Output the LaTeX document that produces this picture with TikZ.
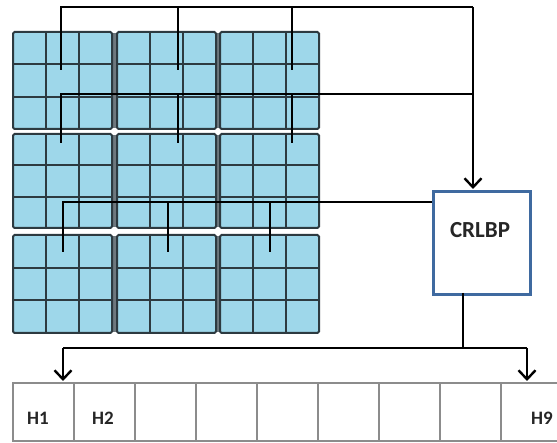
\documentclass[tikz,border=0pt]{standalone}
\usepackage{fontspec}
\setmainfont{Carlito}
\usetikzlibrary{arrows.meta}
\definecolor{cellblue}{RGB}{158,215,234}
\definecolor{griddark}{RGB}{45,58,64}
\definecolor{gapgray}{RGB}{110,120,126}
\definecolor{boxblue}{RGB}{63,106,160}
\definecolor{arrgray}{RGB}{140,140,140}
\tikzset{
  gridline/.style={draw=griddark, line width=2pt},
  bus/.style={draw=black, line width=2.6pt},
  busarrow/.style={bus, -{Straight Barb[length=9pt,width=17pt,line width=2.4pt]}},
  cellbox/.style={draw=arrgray, line width=1.6pt},
  lbl/.style={font=\fontsize{19}{21}\selectfont\bfseries, text=black!85, inner sep=0pt}
}
\begin{document}
\begin{tikzpicture}[x=1pt,y=-1pt]
\useasboundingbox (0,0) rectangle (557,443);
% ---- 3x3 blocks of 3x3 cells ----
\foreach \by/\bh in {32/97,134/94,235/98}{
  \fill[gapgray] (112,\by+1) rectangle (118,\by+\bh-1);
  \fill[gapgray] (215,\by+1) rectangle (221,\by+\bh-1);
}
\foreach \bx in {13,117,220}{
  \foreach \by/\bh in {32/97,134/94,235/98}{
    \fill[cellblue] (\bx,\by) rectangle ++(99,\bh);
    \draw[gridline] (\bx+33,\by) -- ++(0,\bh);
    \draw[gridline] (\bx+66,\by) -- ++(0,\bh);
    \draw[gridline] (\bx,\by+\bh/3) -- ++(99,0);
    \draw[gridline] (\bx,\by+2*\bh/3) -- ++(99,0);
    \draw[gridline, rounded corners=1.5pt] (\bx,\by) rectangle ++(99,\bh);
  }
}
% ---- tap coordinates ----
\coordinate (t11) at (61,70);  \coordinate (t12) at (178,70);  \coordinate (t13) at (292,70);
\coordinate (t21) at (61,143); \coordinate (t22) at (178,143); \coordinate (t23) at (292,143);
\coordinate (t31) at (63,252); \coordinate (t32) at (168,252); \coordinate (t33) at (270,252);
\coordinate (b1L) at (61,7);   \coordinate (b1R) at (473,7);
\coordinate (b2L) at (61,94);  \coordinate (b2R) at (473,94);
\coordinate (b3L) at (63,202);
% ---- CRLBP box ----
\node[draw=boxblue, fill=white, line width=2.6pt, minimum width=97, minimum height=103, anchor=north west, inner sep=0pt] (crlbp) at (432,190) {};
\node[font=\fontsize{23}{25}\selectfont\bfseries, text=black!85, inner sep=0pt] (crlbpT) at (480,230) {CRLBP};
% ---- buses ----
\draw[bus] (t11) -- (b1L) -- (b1R);
\draw[bus] (t12) -- (t12 |- b1L);
\draw[bus] (t13) -- (t13 |- b1L);
\draw[busarrow] (b1R) -- ([yshift=1pt]crlbp.north -| b1R);
\draw[bus] (t21) -- (b2L) -- (b2R);
\draw[bus] (t22) -- (t22 |- b2L);
\draw[bus] (t23) -- (t23 |- b2L);
\draw[bus] (t31) -- (b3L) -- (b3L -| crlbp.west);
\draw[bus] (t32) -- (t32 |- b3L);
\draw[bus] (t33) -- (t33 |- b3L);
% ---- output ----
\coordinate (oS) at (463,293);
\coordinate (oJ) at (463,348);
\coordinate (oL) at (63,348);
\coordinate (oR) at (527,348);
\coordinate (aL) at (63,381);
\coordinate (aR) at (527,381);
\draw[bus] (oS) -- (oJ);
\draw[bus] (oL) -- (oR);
\draw[busarrow] (oL) -- (aL);
\draw[busarrow] (oR) -- (aR);
% ---- histogram array ----
\draw[cellbox] (562,383) -- (13,383) -- (13,441) -- (562,441);
\foreach \k in {1,...,8}{
  \draw[cellbox] (13+61*\k,383) -- (13+61*\k,441);
}
\node[lbl] (h1) at (38,418) {H1};
\node[lbl] (h2) at (103,418) {H2};
\node[lbl] (h9) at (542,418) {H9};
\end{tikzpicture}
\end{document}
